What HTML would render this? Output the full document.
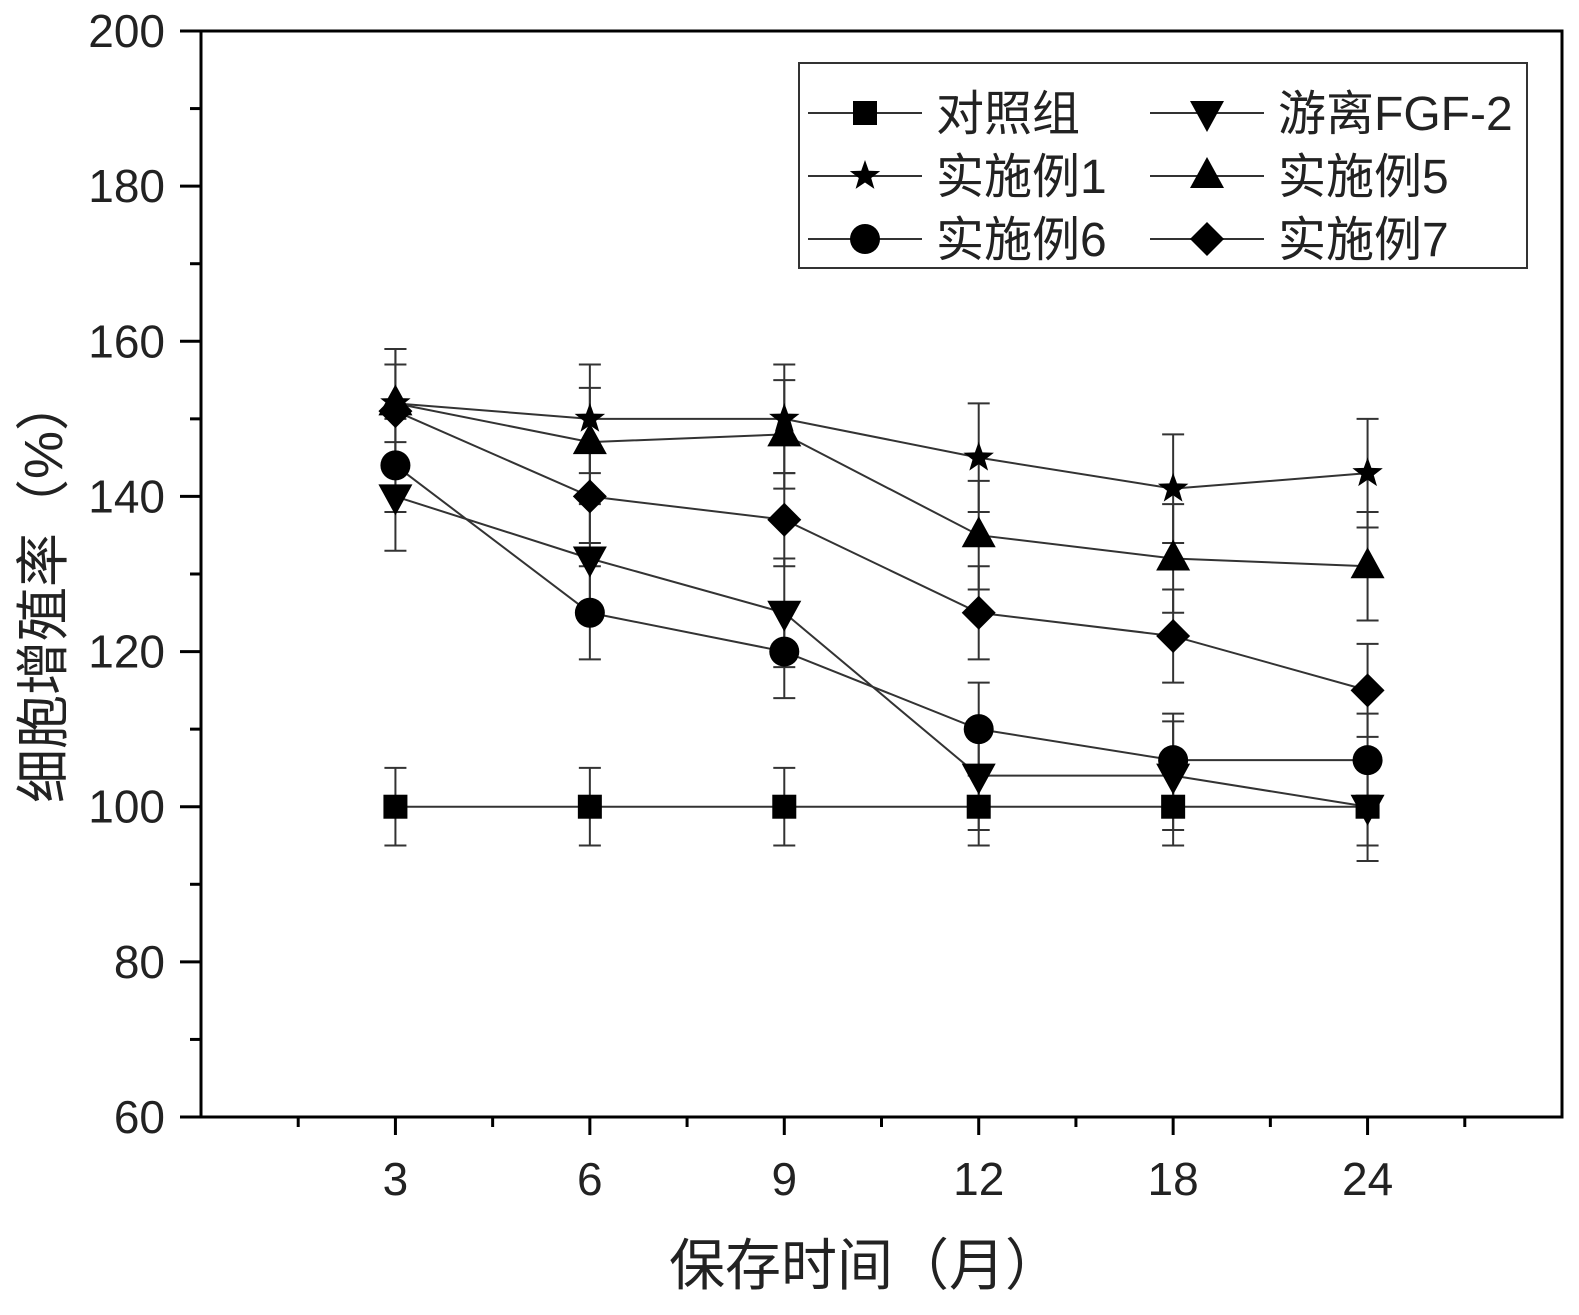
<!DOCTYPE html><html><head><meta charset="utf-8"><style>body{margin:0;background:#fff}svg{display:block}</style></head><body>
<svg id="s" width="1579" height="1315" xmlns="http://www.w3.org/2000/svg" font-family="Liberation Sans, Noto Sans CJK SC, sans-serif"></svg>
<script>
const s=document.getElementById('s');let h='';
const L=201,R=1562,T=31,B=1117;
const X=i=>L+(R-L)/7*i, Y=v=>B-(v-60)*(B-T)/140;
h+=`<rect x="${L}" y="${T}" width="${R-L}" height="${B-T}" fill="none" stroke="#000" stroke-width="3"/>`;
for(let v=60;v<=200;v+=10){const y=Y(v),maj=v%20==0;h+=`<line x1="${maj?180:190}" x2="${L}" y1="${y}" y2="${y}" stroke="#000" stroke-width="3"/>`;if(maj)h+=`<text x="165" y="${y+16}" font-size="46" text-anchor="end" fill="#222">${v}</text>`;}
const xl=['3','6','9','12','18','24'];
for(let i=1;i<14;i++){const x=L+(R-L)/14*i,maj=i%2==0;h+=`<line x1="${x}" x2="${x}" y1="${B}" y2="${B+(maj?18:10)}" stroke="#000" stroke-width="3"/>`;if(maj&&i/2<=6)h+=`<text x="${x}" y="${B+78}" font-size="46" text-anchor="middle" fill="#222">${xl[i/2-1]}</text>`;}
h+=`<text x="865" y="1285" font-size="56" text-anchor="middle" fill="#222">保存时间（月）</text>`;
h+=`<text transform="translate(62,590) rotate(-90)" font-size="54" text-anchor="middle" fill="#222">细胞增殖率（%）</text>`;
function mk(t,x,y){
if(t=='sq')return `<rect x="${x-12}" y="${y-12}" width="24" height="24"/>`;
if(t=='ci')return `<circle cx="${x}" cy="${y}" r="15"/>`;
if(t=='up')return `<polygon points="${x},${y-19} ${x+17},${y+12} ${x-17},${y+12}"/>`;
if(t=='dn')return `<polygon points="${x},${y+19} ${x+17},${y-12} ${x-17},${y-12}"/>`;
if(t=='di')return `<polygon points="${x},${y-17} ${x+17},${y} ${x},${y+17} ${x-17},${y}"/>`;
if(t=='st'){let p=[];for(let k=0;k<10;k++){const a=-Math.PI/2+k*Math.PI/5,rr=k%2?6.5:16;p.push((x+rr*Math.cos(a)).toFixed(1)+','+(y+rr*Math.sin(a)).toFixed(1));}return `<polygon points="${p.join(' ')}"/>`;}}
const D=[['sq',[100,100,100,100,100,100],5],['dn',[140,132,125,104,104,100],7],['st',[152,150,150,145,141,143],7],['up',[152,147,148,135,132,131],7],['ci',[144,125,120,110,106,106],6],['di',[151,140,137,125,122,115],6]];
D.forEach(([t,v,e])=>{let pts=v.map((a,i)=>X(i+1)+','+Y(a)).join(' ');h+=`<polyline points="${pts}" fill="none" stroke="#333" stroke-width="2"/>`;
v.forEach((a,i)=>{const x=X(i+1);h+=`<g stroke="#333" stroke-width="2"><line x1="${x}" x2="${x}" y1="${Y(a-e)}" y2="${Y(a+e)}"/><line x1="${x-11}" x2="${x+11}" y1="${Y(a-e)}" y2="${Y(a-e)}"/><line x1="${x-11}" x2="${x+11}" y1="${Y(a+e)}" y2="${Y(a+e)}"/></g>`;});});
D.forEach(([t,v])=>v.forEach((a,i)=>h+=mk(t,X(i+1),Y(a))));
h+=`<rect x="799" y="63" width="728" height="205" fill="#fff" stroke="#333" stroke-width="2"/>`;
const lg=[['sq','对照组',808,113],['dn','游离FGF-2',1150,113],['st','实施例1',808,176],['up','实施例5',1150,176],['ci','实施例6',808,239],['di','实施例7',1150,239]];
lg.forEach(([t,n,x,y])=>{h+=`<line x1="${x}" x2="${x+114}" y1="${y}" y2="${y}" stroke="#333" stroke-width="2"/>`+mk(t,x+57,y)+`<text x="${x+128}" y="${y+17}" font-size="48" fill="#222">${n}</text>`;});
s.innerHTML=h;
</script></body></html>
